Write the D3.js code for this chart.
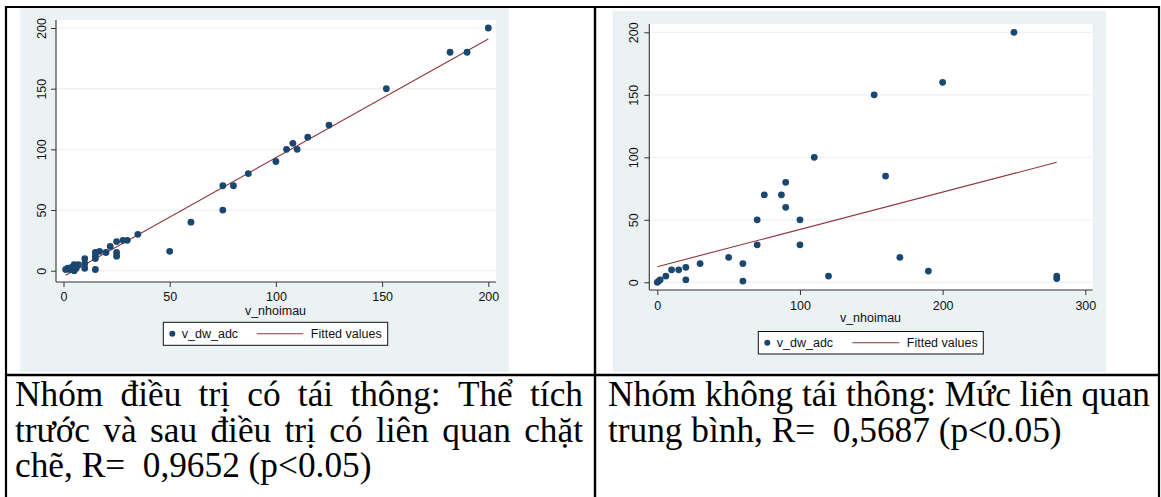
<!DOCTYPE html>
<html>
<head>
<meta charset="utf-8">
<script src="https://cdn.jsdelivr.net/npm/d3@7"></script>
<style>
  html, body { margin: 0; padding: 0; background: #ffffff; }
  svg { display: block; }
  .tick text { font-family: "Liberation Sans", Arial, sans-serif; }
</style>
</head>
<body>
<svg id="fig" width="1161" height="497"></svg>
<script>
// ---- data ----------------------------------------------------------
// Group with recanalisation: volume before (v_nhoimau) vs after (v_dw_adc)
const leftX = [1, 2, 3, 5, 5, 6, 7, 4, 10, 10, 10, 15, 15, 15, 15, 17, 20, 22, 25, 25, 25, 28, 30, 35,
               50, 60, 75, 75, 80, 87, 100, 105, 108, 110, 115, 125, 152, 182, 190, 200];
const leftY = [1, 2, 1, 0, 5, 2, 5, 3, 10, 6, 2, 15, 12, 10, 1, 16, 15, 20, 15, 12, 24, 25, 25, 30,
               16, 40, 50, 70, 70, 80, 90, 100, 105, 100, 110, 120, 150, 180, 180, 200];
const leftFitX = [1, 200];
const leftFitY = [-3.8, 191];

// Group without recanalisation
const rightX = [0, 1, 2, 6, 10, 15, 20, 20, 30, 50, 60, 60, 70, 70, 75, 87, 90, 90, 100, 100,
                110, 120, 152, 160, 170, 190, 200, 250, 280, 280];
const rightY = [0, 1, 2, 5, 10, 10, 12, 2, 15, 20, 15, 1, 30, 50, 70, 70, 80, 60, 50, 30,
                100, 5, 150, 85, 20, 9, 160, 200, 3, 5];
const rightFitX = [0, 280];
const rightFitY = [12.5, 96];

const leftXTicks = [0, 50, 100, 150, 200];
const rightXTicks = [0, 100, 200, 300];
const yTicks = [0, 50, 100, 150, 200];

const xTitle = "v_nhoimau";
const legendLabels = ["v_dw_adc", "Fitted values"];

const captionLeft = [
  "Nhóm điều trị có tái thông: Thể tích",
  "trước và sau điều trị có liên quan chặt",
  "chẽ, R=  0,9652 (p<0.05)"
];
const captionRight = [
  "Nhóm không tái thông: Mức liên quan",
  "trung bình, R=  0,5687 (p<0.05)"
];

// ---- styles --------------------------------------------------------
const BG = "#eaf2f3";
const DOT = "#1a476f";
const FIT = "#90353b";
const FONT = "'Liberation Sans', Arial, sans-serif";
const SERIF = "'Liberation Serif', 'Times New Roman', serif";
const FS = 12.5;

const svg = d3.select("#fig");

// ---- one Stata-style scatter with fitted line -------------------------
function scatterPanel(cfg) {
  const g = svg.append("g");
  g.append("rect")
    .attr("x", cfg.panel[0]).attr("y", cfg.panel[1])
    .attr("width", cfg.panel[2] - cfg.panel[0]).attr("height", cfg.panel[3] - cfg.panel[1])
    .attr("fill", BG);
  const [pl, pt, pr, pb] = cfg.plot;
  g.append("rect")
    .attr("x", pl).attr("y", pt).attr("width", pr - pl).attr("height", pb - pt)
    .attr("fill", "#ffffff");

  const x = d3.scaleLinear().domain(cfg.xDomain).range(cfg.xRange);
  const y = d3.scaleLinear().domain([0, 200]).range(cfg.yRange);

  // horizontal grid
  g.append("g").selectAll("line").data(yTicks).join("line")
    .attr("x1", pl).attr("x2", pr)
    .attr("y1", d => y(d)).attr("y2", d => y(d))
    .attr("stroke", BG).attr("stroke-width", 1.2);

  // fitted line
  g.append("path")
    .datum(d3.zip(cfg.fitX, cfg.fitY))
    .attr("d", d3.line().x(d => x(d[0])).y(d => y(d[1])))
    .attr("fill", "none").attr("stroke", FIT).attr("stroke-width", 1.1);

  // points
  g.append("g").selectAll("circle").data(d3.zip(cfg.xs, cfg.ys)).join("circle")
    .attr("cx", d => x(d[0])).attr("cy", d => y(d[1])).attr("r", 3.4)
    .attr("fill", DOT);

  // x axis
  const xa = g.append("g").attr("transform", `translate(0,${pb})`)
    .call(d3.axisBottom(x).tickValues(cfg.xTicks).tickSize(5).tickSizeOuter(0).tickPadding(cfg.xPad));
  xa.select(".domain").remove();
  xa.selectAll("line").attr("stroke", "#333");
  xa.selectAll("text").attr("font-size", FS).attr("fill", "#111").attr("font-family", FONT);

  // y axis with vertical labels
  const ya = g.append("g").attr("transform", `translate(${pl},0)`)
    .call(d3.axisLeft(y).tickValues(yTicks).tickSize(5).tickSizeOuter(0));
  ya.select(".domain").remove();
  ya.selectAll("line").attr("stroke", "#333");
  ya.selectAll("text")
    .attr("x", 0).attr("dy", 0).attr("text-anchor", "middle")
    .attr("transform", `translate(${-cfg.yOff},0) rotate(-90)`)
    .attr("font-size", FS).attr("fill", "#111").attr("font-family", FONT);

  // axis lines
  g.append("line").attr("x1", pl).attr("x2", pl).attr("y1", pt).attr("y2", pb)
    .attr("stroke", "#333").attr("stroke-width", 1.1);
  g.append("line").attr("x1", pl).attr("x2", pr).attr("y1", pb).attr("y2", pb)
    .attr("stroke", "#333").attr("stroke-width", 1.1);

  // axis title
  g.append("text").attr("x", cfg.titleX).attr("y", cfg.titleY)
    .attr("text-anchor", "middle").attr("font-size", FS).attr("font-family", FONT).attr("fill", "#111")
    .text(xTitle);

  // legend
  const [lx0, ly0, lx1, ly1] = cfg.legend;
  const lg = g.append("g");
  lg.append("rect").attr("x", lx0).attr("y", ly0).attr("width", lx1 - lx0).attr("height", ly1 - ly0)
    .attr("fill", "#ffffff").attr("stroke", "#111").attr("stroke-width", 1);
  const my = (ly0 + ly1) / 2;
  lg.append("circle").attr("cx", lx0 + 9).attr("cy", my).attr("r", 3).attr("fill", DOT);
  lg.append("text").attr("x", lx0 + 18.5).attr("y", my + 4.4)
    .attr("font-size", FS).attr("font-family", FONT).attr("fill", "#111").text(legendLabels[0]);
  lg.append("line").attr("x1", cfg.legLine[0]).attr("x2", cfg.legLine[1]).attr("y1", my).attr("y2", my)
    .attr("stroke", FIT).attr("stroke-width", 1.1);
  lg.append("text").attr("x", cfg.legLine[1] + 7.5).attr("y", my + 4.4)
    .attr("font-size", FS).attr("font-family", FONT).attr("fill", "#111").text(legendLabels[1]);
}

scatterPanel({
  panel: [20, 8, 509, 372],
  plot: [56, 20, 496, 282],
  xDomain: [0, 200], xRange: [63.5, 488.3], yRange: [270.7, 28],
  xs: leftX, ys: leftY, fitX: leftFitX, fitY: leftFitY,
  xTicks: leftXTicks, xPad: 5.6, yOff: 9.8,
  titleX: 275.5, titleY: 314.5,
  legend: [163.3, 322.3, 387.7, 345.3], legLine: [256.7, 303.3]
});

scatterPanel({
  panel: [612.7, 11, 1106, 372],
  plot: [649.3, 24, 1092.7, 290],
  xDomain: [0, 300], xRange: [657.3, 1085.3], yRange: [282.3, 32.3],
  xs: rightX, ys: rightY, fitX: rightFitX, fitY: rightFitY,
  xTicks: rightXTicks, xPad: 6.6, yOff: 11.5,
  titleX: 870.5, titleY: 321.8,
  legend: [758.3, 331.5, 983.3, 354], legLine: [852.3, 899.3]
});

// ---- table frame ---------------------------------------------------
const frame = svg.append("g").attr("stroke", "#000").attr("fill", "none");
frame.append("line").attr("x1", 5).attr("x2", 1160).attr("y1", 7).attr("y2", 7).attr("stroke-width", 2.2);
frame.append("line").attr("x1", 6).attr("x2", 6).attr("y1", 6).attr("y2", 497).attr("stroke-width", 2.2);
frame.append("line").attr("x1", 595).attr("x2", 595).attr("y1", 6).attr("y2", 497).attr("stroke-width", 2.4);
frame.append("line").attr("x1", 1159).attr("x2", 1159).attr("y1", 6).attr("y2", 497).attr("stroke-width", 2.2);
frame.append("line").attr("x1", 5).attr("x2", 1160).attr("y1", 375).attr("y2", 375).attr("stroke-width", 2.4);

// ---- captions (justified lines, last line ragged) --------------------
function caption(lines, x0, x1, y0, lh, fs) {
  const g = svg.append("g").attr("font-family", SERIF).attr("font-size", fs).attr("fill", "#000");
  lines.forEach((line, i) => {
    const yy = y0 + i * lh;
    const last = i === lines.length - 1;
    if (last) {
      g.append("text").attr("x", x0).attr("y", yy).style("white-space", "pre").text(line);
      return;
    }
    const words = line.split(" ");
    const nodes = words.map(w => g.append("text").attr("y", yy).text(w));
    const widths = nodes.map(n => n.node().getComputedTextLength());
    const gap = (x1 - x0 - d3.sum(widths)) / (words.length - 1);
    let cx = x0;
    nodes.forEach((n, k) => { n.attr("x", cx); cx += widths[k] + gap; });
  });
}
caption(captionLeft, 15, 583, 406, 35.5, 35.3);
caption(captionRight, 608, 1150, 406, 35.5, 35.3);
</script>
</body>
</html>
